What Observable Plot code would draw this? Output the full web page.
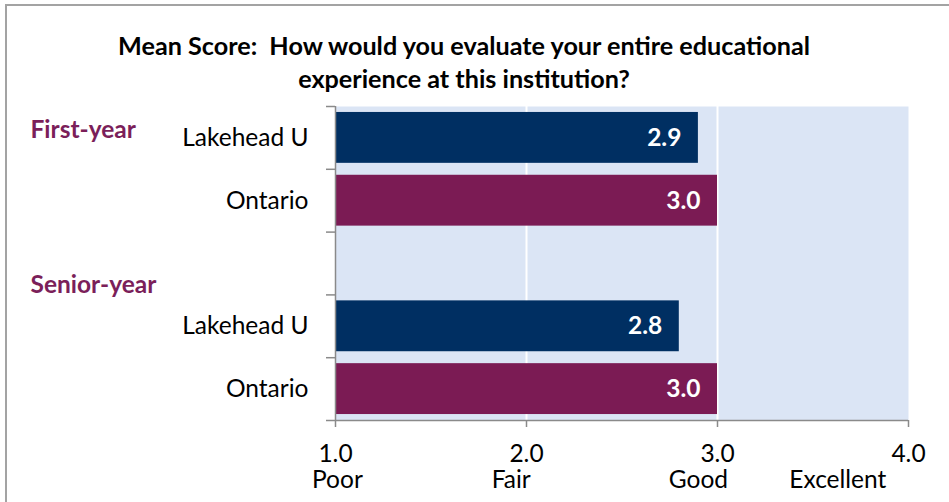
<!DOCTYPE html>
<html><head><meta charset="utf-8">
<script src="https://cdn.jsdelivr.net/npm/d3@7"></script>
<script src="https://cdn.jsdelivr.net/npm/@observablehq/plot@0.6"></script>
<style>
body{margin:0;background:#fff;font-family:Lato, sans-serif;}
#wrap{position:relative;width:949px;height:502px;overflow:hidden;}
#border{position:absolute;left:5px;top:4px;width:1000px;height:600px;border-left:2px solid #a3a3a3;border-top:2px solid #a3a3a3;box-sizing:border-box;pointer-events:none;}
#title{height:95px;box-sizing:border-box;padding-top:29px;padding-right:21px;text-align:center;font-weight:bold;font-size:25.2px;line-height:33px;color:#000;white-space:nowrap;}
</style></head><body>
<div id="wrap"><div id="border"></div><div id="title">Mean Score:&nbsp; How would you evaluate your entire educational<br>experience at this institution?</div><div id="chart"></div></div>
<script>
// ---- data ----
const groups = ["First-year", "Senior-year"];
const institutions = ["Lakehead U", "Ontario"];
const firstYearScores = [2.9, 3.0];
const seniorYearScores = [2.8, 3.0];
const xTicks = [1, 2, 3, 4];
const ratingLabels = ["Poor", "Fair", "Good", "Excellent"];
const ratingAnchors = [1.01, 1.92, 2.9, 3.63];

// ---- build rows ----
const bars = [
  ...institutions.map((inst, i) => ({key: "FY|" + inst, inst, value: firstYearScores[i]})),
  ...institutions.map((inst, i) => ({key: "SY|" + inst, inst, value: seniorYearScores[i]}))
];
const keys = ["FY|Lakehead U", "FY|Ontario", "gap", "SY|Lakehead U", "SY|Ontario"];
const rowLabel = k => k === "gap" ? "" : k.split("|")[1];

const navy = "#002f62", purple = "#7b1b54", labelPurple = "#7b1f5a", gray = "#8a8a8a";
const W = 949, H = 407, mT = 11, mB = 82;
const step = (H - mT - mB) / keys.length;

const plot = Plot.plot({
  width: W, height: H,
  marginLeft: 335, marginRight: 41, marginTop: mT, marginBottom: mB,
  style: {fontFamily: "Lato, sans-serif", fontSize: "24.5px", color: "#000", background: "transparent", overflow: "visible"},
  x: {domain: [1, 4], axis: null, label: null},
  y: {domain: keys, paddingInner: 0.19, paddingOuter: 0.095, align: 0.5, round: false, axis: null, label: null},
  color: {domain: institutions, range: [navy, purple]},
  marks: [
    Plot.frame({fill: "#dbe5f5", stroke: null}),
    Plot.ruleX([2, 3], {stroke: "white", strokeWidth: 2}),
    Plot.barX(bars, {y: "key", x1: 1, x2: "value", fill: "inst"}),
    Plot.text(bars, {y: "key", x: "value", text: d => d.value.toFixed(1), dx: -17, textAnchor: "end", fill: "white", fontWeight: "bold"}),
    Plot.ruleX([1], {stroke: gray, strokeWidth: 1.5}),
    Plot.ruleY(keys, {y: d => d, x1: 1, x2: 1, insetLeft: -9, dy: -step / 2, stroke: gray, strokeWidth: 1.5}),
    Plot.ruleY([keys[keys.length - 1]], {y: d => d, x1: 1, x2: 4, insetLeft: -9, dy: step / 2, stroke: gray, strokeWidth: 1.5}),
    Plot.axisX(xTicks, {tickSize: 7, tickPadding: 17, tickFormat: d3.format(".1f"), stroke: gray, strokeWidth: 1.5, label: null}),
    Plot.axisY(keys, {tickSize: 0, tickPadding: 27, tickFormat: rowLabel, label: null}),
    Plot.text(ratingLabels, {x: (d, i) => ratingAnchors[i], frameAnchor: "bottom", dy: 67, text: d => d}),
    Plot.text([groups[0]], {y: () => keys[0], x: 1, dx: -305, dy: -7.4, textAnchor: "start", fill: labelPurple, fontWeight: "bold"}),
    Plot.text([groups[1]], {y: () => "gap", x: 1, dx: -305, dy: 22, textAnchor: "start", fill: labelPurple, fontWeight: "bold"})
  ]
});
document.getElementById("chart").append(plot);
</script>
</body></html>
